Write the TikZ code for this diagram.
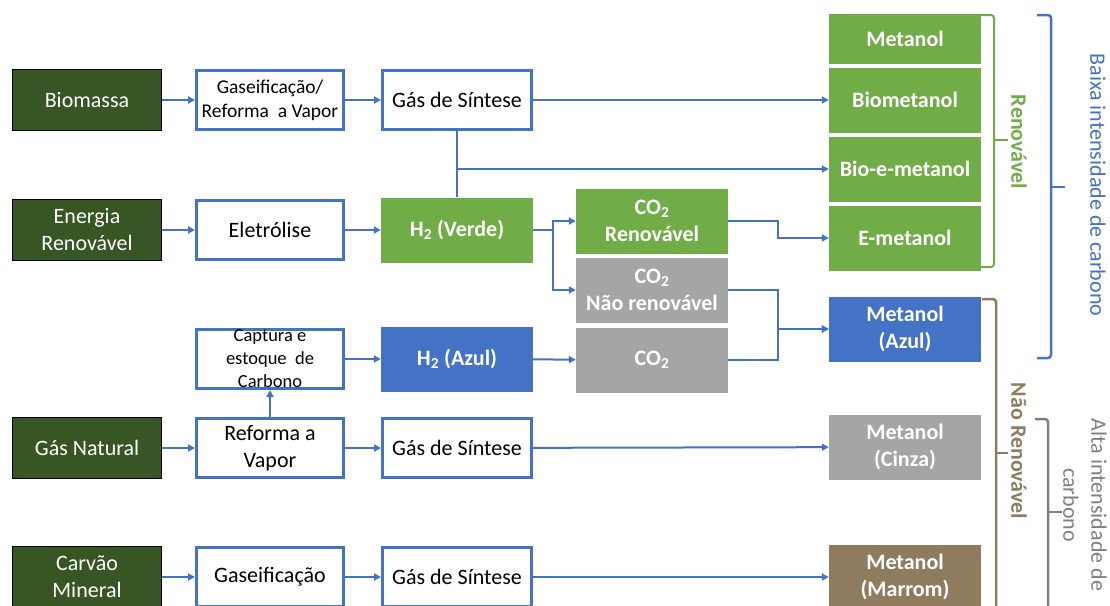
\documentclass[tikz,border=0pt]{standalone}
\usepackage{fontspec}
\setmainfont{Carlito}
\usetikzlibrary{arrows.meta}
\definecolor{verdeescuro}{RGB}{55,86,35}
\definecolor{verde}{RGB}{112,173,71}
\definecolor{azul}{RGB}{68,114,196}
\definecolor{cinza}{RGB}{165,165,165}
\definecolor{marrom}{RGB}{143,124,94}
\definecolor{cinzaescuro}{RGB}{127,127,127}

\begin{document}
\begin{tikzpicture}[x=1pt,y=-1pt,
	fonte/.style={draw=black,line width=0.8pt,fill=verdeescuro,text=white,minimum width=149pt,minimum height=61pt,align=center,font=\fontsize{22}{27}\selectfont},
	processo/.style={draw=azul,line width=3pt,fill=white,minimum width=147pt,minimum height=59pt,align=center,font=\fontsize{22}{27}\selectfont},
	produto/.style={minimum width=152pt,minimum height=65pt,align=center,text=white,font=\bfseries\fontsize{22}{27}\selectfont},
	seta/.style={draw=azul,line width=2pt,-{Triangle[length=7pt,width=7pt]}},
	chave/.style={line width=2.5pt,rounded corners=3pt}]
					\useasboundingbox (0,0) rectangle (1110,605);
					\begin{scope}[every node/.style={fonte}]
						\node (bio) at (87,100) {Biomassa};
						\node (ener) at (87,230) {Energia\\Renovável};
						\node (gasnat) at (87,448) {Gás Natural};
						\node (carvao) at (87,577) {Carvão\\Mineral};
					\end{scope}
					\begin{scope}[every node/.style={processo}]
						\node[font=\fontsize{19.5}{24}\selectfont] (gasref) at (270,100) {Gaseificação/\\Reforma~ a Vapor};
						\node (eletro) at (270,230) {Eletrólise};
						\node[inner sep=0pt,font=\fontsize{18.5}{23}\selectfont] (ccs) at (270,359) {Captura e\\estoque~ de\\Carbono};
						\node (refvap) at (270,448) {Reforma a\\Vapor};
						\node (gaseif) at (270,577) {Gaseificação};
						\node[minimum width=149pt] (sint1) at (457,100) {Gás de Síntese};
						\node[minimum width=149pt] (sint2) at (457,448) {Gás de Síntese};
						\node[minimum width=149pt] (sint3) at (457,577) {Gás de Síntese};
					\end{scope}
					\begin{scope}[every node/.style={produto}]
						\node[fill=verde] (h2v) at (457,230) {H\textsubscript{2} (Verde)};
						\node[fill=azul] (h2a) at (457,359) {H\textsubscript{2} (Azul)};
						\node[fill=verde] (co2r) at (652,221) {CO\textsubscript{2}\\Renovável};
						\node[fill=cinza] (co2nr) at (652,290) {CO\textsubscript{2}\\Não renovável};
						\node[fill=cinza] (co2) at (652,360) {CO\textsubscript{2}};
						\node[fill=verde,minimum height=50pt] (met) at (905,39) {Metanol};
						\node[fill=verde] (biomet) at (905,100) {Biometanol};
						\node[fill=verde] (bioemet) at (905,169) {Bio-e-metanol};
						\node[fill=verde] (emet) at (905,238) {E-metanol};
						\node[fill=azul] (metazul) at (905,329) {Metanol\\(Azul)};
						\node[fill=cinza] (metcinza) at (905,447) {Metanol\\(Cinza)};
						\node[fill=marrom] (metmarrom) at (905,577) {Metanol\\(Marrom)};
					\end{scope}
					\draw [seta] (bio) -- (gasref);
					\draw [seta] (gasref) -- (sint1);
					\draw [seta] (sint1) -- (biomet);
					\draw [seta,-] (sint1) -- (h2v);
					\draw [seta] (sint1 |- bioemet) -- (bioemet);
					\draw [seta] (ener) -- (eletro);
					\draw [seta] (eletro) -- (h2v);
					\draw [seta] (h2v.east) -- ++(20,0) |- (co2r);
					\draw [seta] (h2v.east) -- ++(20,0) |- (co2nr);
					\draw [seta] (co2r.east) -- ++(50,0) |- (emet);
					\draw [seta] (co2nr.east) -- ++(50,0) |- (metazul);
					\draw [seta] (co2.east) -- ++(50,0) |- (metazul);
					\draw [seta] (h2a) -- (co2);
					\draw [seta] (ccs) -- (h2a);
					\draw [seta] (refvap) -- (ccs);
					\draw [seta] (gasnat) -- (refvap);
					\draw [seta] (refvap) -- (sint2);
					\draw [seta] (sint2) -- (metcinza);
					\draw [seta] (carvao) -- (gaseif);
					\draw [seta] (gaseif) -- (sint3);
					\draw [seta] (sint3) -- (metmarrom);
					\draw [chave,verde,line width=2pt] (981,15) -- (994,15) -- (994,267) -- (981,267);
					\draw [chave,verde,line width=2pt] (994,140) -- (1008,140);
					\draw [chave,azul] (1037,15) -- (1051,15) -- (1051,358) -- (1037,358);
					\draw [chave,azul] (1051,187) -- (1065,187);
					\draw [chave,marrom] (982,299) -- (996,299) -- (996,620);
					\draw [chave,marrom] (996,453) -- (1008,453);
					\draw [chave,cinzaescuro] (1035,419) -- (1048,419) -- (1048,620);
					\draw [chave,cinzaescuro] (1048,512) -- (1062,512);
					\node[rotate=-90,text=verde,font=\bfseries\fontsize{22}{27}\selectfont] (ren) at (1019,142) {Renovável};
					\node[rotate=-90,text=marrom,font=\bfseries\fontsize{22}{27}\selectfont] (nren) at (1019,451) {Não Renovável};
					\node[rotate=-90,text=azul,font=\fontsize{22}{27}\selectfont] (baixa) at (1098,185) {Baixa intensidade de carbono};
					\node[rotate=-90,text=cinzaescuro,align=center,font=\fontsize{22}{28}\selectfont] (alta) at (1085,505) {Alta intensidade de\\carbono};
				\end{tikzpicture}
\end{document}
